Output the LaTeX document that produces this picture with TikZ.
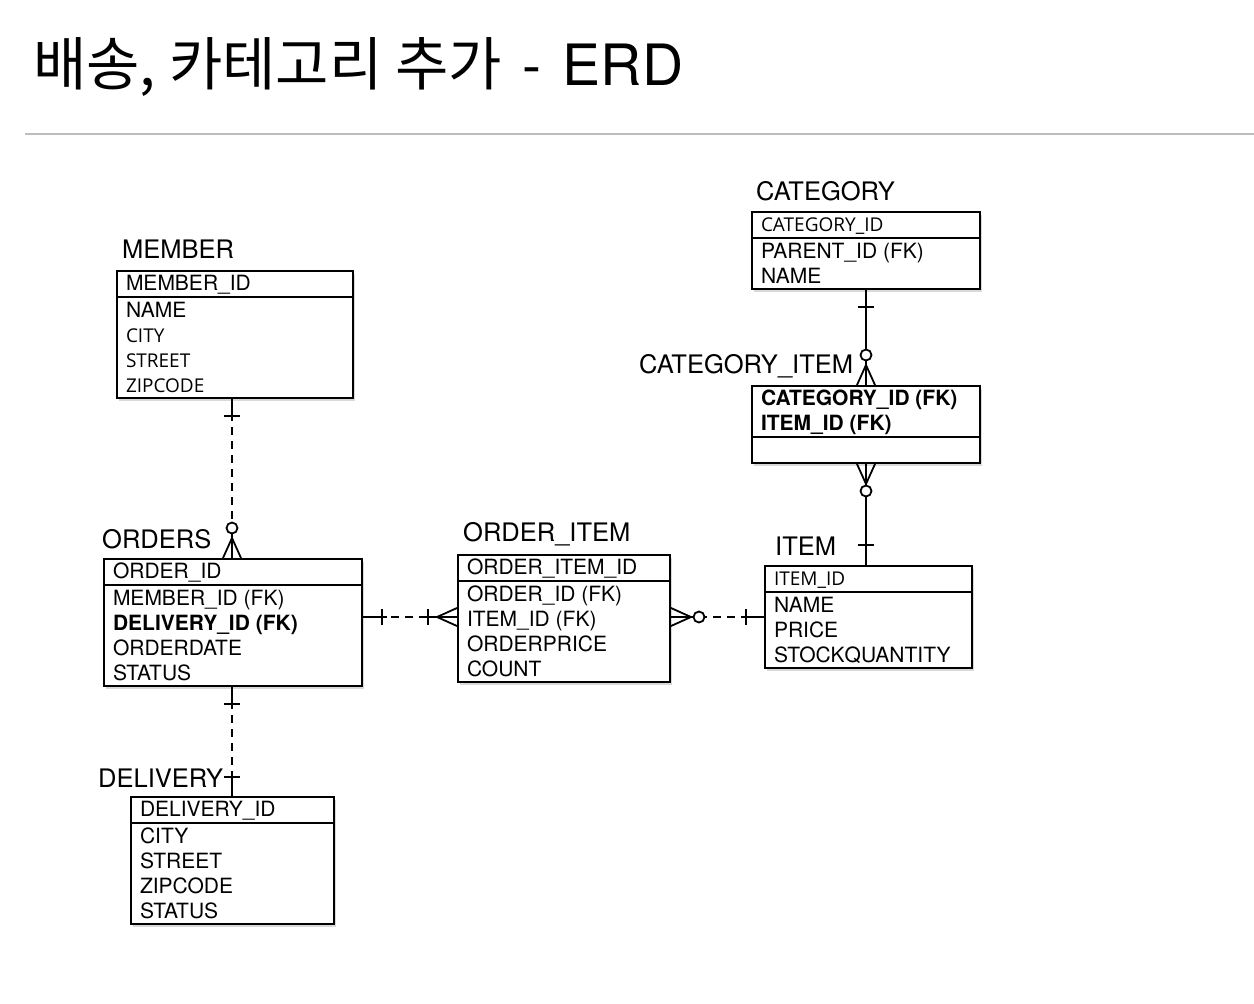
\documentclass[tikz,border=0pt]{standalone}
\usepackage{fontspec,array}
\setmainfont{TeX Gyre Heros}
\newfontfamily\krfont{Noto Sans CJK KR}
\newfontfamily\keyfont{Open Sans}
\usetikzlibrary{shadows}
\definecolor{RuleGray}{HTML}{BDBDBD}
\setlength{\arrayrulewidth}{2pt}
\setlength{\extrarowheight}{5pt}
\newcommand{\cellfont}{\fontsize{21}{20}\selectfont}
\newcommand{\keytext}[1]{{\keyfont\fontsize{19}{20}\selectfont #1}}
% entity table: width, key rows, other rows
\newcommand{\enttable}[3]{\begin{tabular}{@{\hspace{9pt}}p{#1}@{}}#2\\\hline #3\end{tabular}}

\begin{document}
\begin{tikzpicture}[
  x=1pt,y=1pt,
  tbl/.style={draw,line width=2pt,fill=white,inner sep=0pt,anchor=north west,
    font=\cellfont,drop shadow={shadow xshift=2pt,shadow yshift=-3pt,opacity=0.3}},
  entname/.style={anchor=base west,inner sep=0pt,font=\fontsize{25.5}{30}\selectfont},
  conn/.style={line width=1.8pt},
  dashlink/.style={conn,dash pattern=on 8pt off 6pt},
  barmark/.pic={\draw[conn] (0,0) -- (#1+5,0) (#1,-8) -- (#1,8);},
  crowmark/.pic={\draw[conn] (0,0) -- (24,0) (0,9) -- (20,0) -- (0,-9);},
  ringmark/.pic={\draw[conn,fill=white] (#1,0) circle (5.5pt);}
]
\useasboundingbox (0,0) rectangle (1254,-1004);

% title
\node[anchor=base west,inner sep=0pt,font=\fontsize{57}{60}\selectfont] (title) at (33,-85)
  {{\krfont\fontsize{58}{60}\selectfont 배송, 카테고리 추가}\hspace{4pt} -\hspace{6pt} ERD};
\coordinate (ruleL) at (25,-134);
\coordinate (ruleR) at (1254,-134);
\draw[RuleGray,line width=1.5pt] (ruleL) -- (ruleR);

% tables
\node[tbl] (member) at (116,-270) {\enttable{227pt}{MEMBER\_ID}{NAME\\\keytext{CITY}\\\keytext{STREET}\\\keytext{ZIPCODE}}};
\node[tbl] (category) at (751,-211) {\enttable{219pt}{\keytext{CATEGORY\_ID}}{PARENT\_ID (FK)\\NAME}};
\node[tbl] (catitem) at (751,-385) {\enttable{219pt}{\textbf{CATEGORY\_ID (FK)}\\\textbf{ITEM\_ID (FK)}}{\mbox{}}};
\node[tbl] (item) at (764,-565) {\enttable{198pt}{\keytext{ITEM\_ID}}{NAME\\PRICE\\STOCKQUANTITY}};
\node[tbl] (orders) at (103,-558) {\enttable{249pt}{ORDER\_ID}{MEMBER\_ID (FK)\\\textbf{DELIVERY\_ID (FK)}\\ORDERDATE\\STATUS}};
\node[tbl] (orderitem) at (457,-554) {\enttable{203pt}{ORDER\_ITEM\_ID}{ORDER\_ID (FK)\\ITEM\_ID (FK)\\ORDERPRICE\\COUNT}};
\node[tbl] (delivery) at (130,-796) {\enttable{194pt}{DELIVERY\_ID}{CITY\\STREET\\ZIPCODE\\STATUS}};

% entity names
\node[entname] (memberName) at (122,-258) {MEMBER};
\node[entname] (categoryName) at (756,-200) {CATEGORY};
\node[entname] (catitemName) at (639,-373) {CATEGORY\_ITEM};
\node[entname] (itemName) at (775,-555) {ITEM};
\node[entname] (ordersName) at (102,-548) {ORDERS};
\node[entname] (orderitemName) at (463,-541) {ORDER\_ITEM};
\node[entname] (deliveryName) at (98,-787) {DELIVERY};

% relations
\coordinate (colA) at (232,0);
\coordinate (colB) at (866,0);
\coordinate (rowA) at (0,-617);
\draw[dashlink] (member.south -| colA) -- (orders.north -| colA);
\draw[dashlink] (orders.south -| colA) -- (delivery.north -| colA);
\draw[dashlink] (orders.east |- rowA) -- (orderitem.west |- rowA);
\draw[dashlink] (orderitem.east |- rowA) -- (item.west |- rowA);
\draw[conn] (category.south -| colB) -- (catitem.north -| colB);
\draw[conn] (catitem.south -| colB) -- (item.north -| colB);

\pic[rotate=-90] at (member.south -| colA) {barmark=17};
\pic[rotate=90] at (orders.north -| colA) {crowmark};
\pic[rotate=90] at (orders.north -| colA) {ringmark=30};
\pic[rotate=-90] at (orders.south -| colA) {barmark=17};
\pic[rotate=90] at (delivery.north -| colA) {barmark=19};
\pic at (orders.east |- rowA) {barmark=19};
\pic[rotate=180] at (orderitem.west |- rowA) {crowmark};
\pic[rotate=180] at (orderitem.west |- rowA) {barmark=29};
\pic at (orderitem.east |- rowA) {crowmark};
\pic at (orderitem.east |- rowA) {ringmark=28};
\pic[rotate=180] at (item.west |- rowA) {barmark=18};
\pic[rotate=-90] at (category.south -| colB) {barmark=17};
\pic[rotate=90] at (catitem.north -| colB) {crowmark};
\pic[rotate=90] at (catitem.north -| colB) {ringmark=30};
\pic[rotate=-90] at (catitem.south -| colB) {crowmark};
\pic[rotate=-90] at (catitem.south -| colB) {ringmark=27};
\pic[rotate=90] at (item.north -| colB) {barmark=20};
\end{tikzpicture}
\end{document}
